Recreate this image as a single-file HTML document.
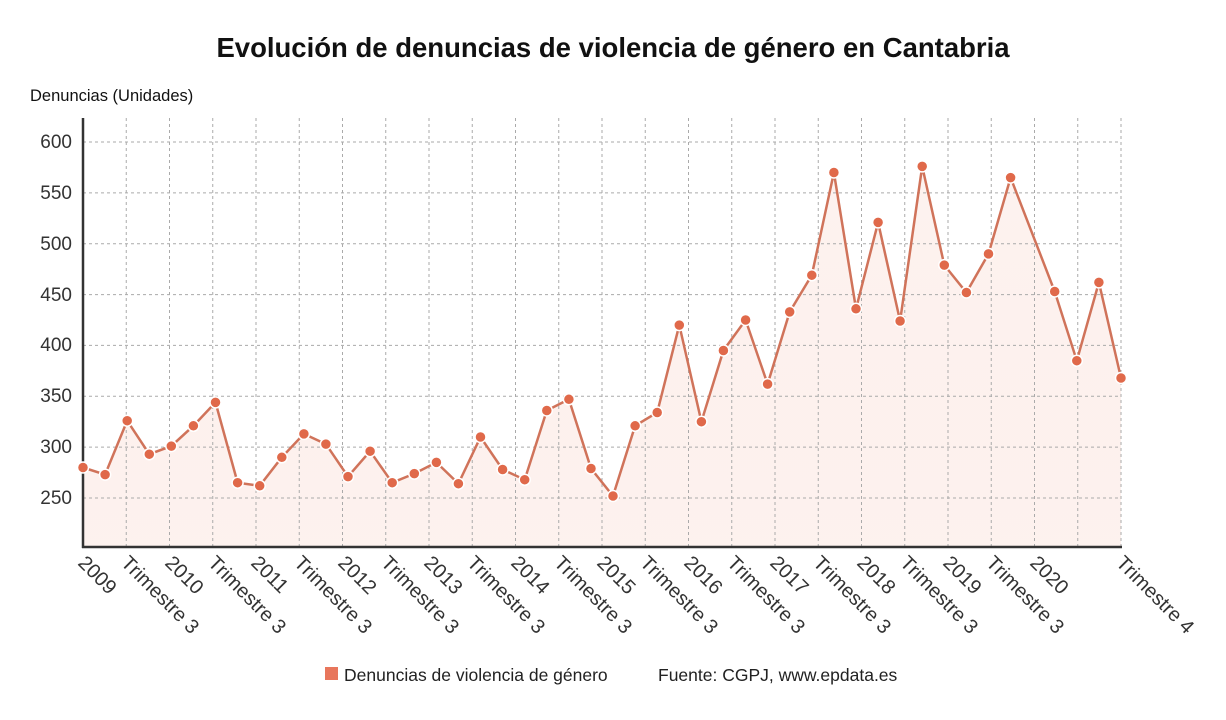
<!DOCTYPE html>
<html><head><meta charset="utf-8"><style>
body{margin:0;background:#fff;}
svg{display:block;font-family:"Liberation Sans",sans-serif;}
</style></head><body>
<svg width="1226" height="720" viewBox="0 0 1226 720">
<defs><linearGradient id="g" x1="0" y1="0" x2="0" y2="1"><stop offset="0" stop-color="#fbe6e0" stop-opacity="0.5"/><stop offset="1" stop-color="#fdf0ec" stop-opacity="0.9"/></linearGradient></defs>
<text x="613" y="57" text-anchor="middle" font-size="27.5" font-weight="bold" fill="#111">Evolución de denuncias de violencia de género en Cantabria</text>
<text x="30" y="101" font-size="16.5" fill="#111">Denuncias (Unidades)</text>
<polygon fill="url(#g)" points="83,547 83,467.5 105.1,474.6 127.2,420.7 149.3,454.2 171.3,446.1 193.4,425.8 215.5,402.4 237.6,482.7 259.7,485.8 281.8,457.3 303.9,433.9 325.9,444.1 348,476.6 370.1,451.2 392.2,482.7 414.3,473.6 436.4,462.4 458.4,483.7 480.5,437 502.6,469.5 524.7,479.7 546.8,410.5 568.9,399.3 591,468.5 613,496 635.1,425.8 657.2,412.5 679.3,325.1 701.4,421.7 723.4,350.5 745.6,320 767.6,384.1 789.7,311.9 811.8,275.2 833.9,172.5 856,308.8 878.1,222.4 900.1,321 922.2,166.4 944.3,265.1 966.4,292.5 988.5,253.9 1010.6,177.6 1054.7,291.5 1076.8,360.7 1098.9,282.4 1121,378 1121,547"/>
<g stroke="#aaa" stroke-width="1" stroke-dasharray="3,3" fill="none">
<path d="M83 142H1121M83 192.9H1121M83 243.7H1121M83 294.6H1121M83 345.4H1121M83 396.3H1121M83 447.1H1121M83 498H1121"/>
<path d="M126.25 118V547M169.5 118V547M212.75 118V547M256 118V547M299.25 118V547M342.5 118V547M385.75 118V547M429 118V547M472.25 118V547M515.5 118V547M558.75 118V547M602 118V547M645.25 118V547M688.5 118V547M731.75 118V547M775 118V547M818.25 118V547M861.5 118V547M904.75 118V547M948 118V547M991.25 118V547M1034.5 118V547M1077.75 118V547M1121 118V547"/>
</g>
<path d="M83 118V548M82 547H1122" stroke="#333" stroke-width="2.5" fill="none"/>
<g font-size="19" fill="#333" text-anchor="end">
<text x="72" y="148">600</text><text x="72" y="199">550</text><text x="72" y="250">500</text><text x="72" y="301">450</text><text x="72" y="351">400</text><text x="72" y="402">350</text><text x="72" y="453">300</text><text x="72" y="504">250</text>
</g>
<polyline fill="none" stroke="#d0735a" stroke-width="2.5" points="83,467.5 105.1,474.6 127.2,420.7 149.3,454.2 171.3,446.1 193.4,425.8 215.5,402.4 237.6,482.7 259.7,485.8 281.8,457.3 303.9,433.9 325.9,444.1 348,476.6 370.1,451.2 392.2,482.7 414.3,473.6 436.4,462.4 458.4,483.7 480.5,437 502.6,469.5 524.7,479.7 546.8,410.5 568.9,399.3 591,468.5 613,496 635.1,425.8 657.2,412.5 679.3,325.1 701.4,421.7 723.4,350.5 745.6,320 767.6,384.1 789.7,311.9 811.8,275.2 833.9,172.5 856,308.8 878.1,222.4 900.1,321 922.2,166.4 944.3,265.1 966.4,292.5 988.5,253.9 1010.6,177.6 1054.7,291.5 1076.8,360.7 1098.9,282.4 1121,378"/>
<g fill="#e0694a" stroke="#fff" stroke-width="1.5">
<circle cx="83" cy="467.5" r="5.5"/><circle cx="105.1" cy="474.6" r="5.5"/><circle cx="127.2" cy="420.7" r="5.5"/><circle cx="149.3" cy="454.2" r="5.5"/><circle cx="171.3" cy="446.1" r="5.5"/><circle cx="193.4" cy="425.8" r="5.5"/><circle cx="215.5" cy="402.4" r="5.5"/><circle cx="237.6" cy="482.7" r="5.5"/><circle cx="259.7" cy="485.8" r="5.5"/><circle cx="281.8" cy="457.3" r="5.5"/><circle cx="303.9" cy="433.9" r="5.5"/><circle cx="325.9" cy="444.1" r="5.5"/><circle cx="348" cy="476.6" r="5.5"/><circle cx="370.1" cy="451.2" r="5.5"/><circle cx="392.2" cy="482.7" r="5.5"/><circle cx="414.3" cy="473.6" r="5.5"/><circle cx="436.4" cy="462.4" r="5.5"/><circle cx="458.4" cy="483.7" r="5.5"/><circle cx="480.5" cy="437" r="5.5"/><circle cx="502.6" cy="469.5" r="5.5"/><circle cx="524.7" cy="479.7" r="5.5"/><circle cx="546.8" cy="410.5" r="5.5"/><circle cx="568.9" cy="399.3" r="5.5"/><circle cx="591" cy="468.5" r="5.5"/><circle cx="613" cy="496" r="5.5"/><circle cx="635.1" cy="425.8" r="5.5"/><circle cx="657.2" cy="412.5" r="5.5"/><circle cx="679.3" cy="325.1" r="5.5"/><circle cx="701.4" cy="421.7" r="5.5"/><circle cx="723.4" cy="350.5" r="5.5"/><circle cx="745.6" cy="320" r="5.5"/><circle cx="767.6" cy="384.1" r="5.5"/><circle cx="789.7" cy="311.9" r="5.5"/><circle cx="811.8" cy="275.2" r="5.5"/><circle cx="833.9" cy="172.5" r="5.5"/><circle cx="856" cy="308.8" r="5.5"/><circle cx="878.1" cy="222.4" r="5.5"/><circle cx="900.1" cy="321" r="5.5"/><circle cx="922.2" cy="166.4" r="5.5"/><circle cx="944.3" cy="265.1" r="5.5"/><circle cx="966.4" cy="292.5" r="5.5"/><circle cx="988.5" cy="253.9" r="5.5"/><circle cx="1010.6" cy="177.6" r="5.5"/><circle cx="1054.7" cy="291.5" r="5.5"/><circle cx="1076.8" cy="360.7" r="5.5"/><circle cx="1098.9" cy="282.4" r="5.5"/><circle cx="1121" cy="378" r="5.5"/>
</g>
<g font-size="20" fill="#333">
<text transform="translate(77,564) rotate(45)">2009</text>
<text transform="translate(120,564) rotate(45)">Trimestre 3</text>
<text transform="translate(164,564) rotate(45)">2010</text>
<text transform="translate(207,564) rotate(45)">Trimestre 3</text>
<text transform="translate(250,564) rotate(45)">2011</text>
<text transform="translate(293,564) rotate(45)">Trimestre 3</text>
<text transform="translate(337,564) rotate(45)">2012</text>
<text transform="translate(380,564) rotate(45)">Trimestre 3</text>
<text transform="translate(423,564) rotate(45)">2013</text>
<text transform="translate(466,564) rotate(45)">Trimestre 3</text>
<text transform="translate(510,564) rotate(45)">2014</text>
<text transform="translate(553,564) rotate(45)">Trimestre 3</text>
<text transform="translate(596,564) rotate(45)">2015</text>
<text transform="translate(639,564) rotate(45)">Trimestre 3</text>
<text transform="translate(683,564) rotate(45)">2016</text>
<text transform="translate(726,564) rotate(45)">Trimestre 3</text>
<text transform="translate(769,564) rotate(45)">2017</text>
<text transform="translate(812,564) rotate(45)">Trimestre 3</text>
<text transform="translate(856,564) rotate(45)">2018</text>
<text transform="translate(899,564) rotate(45)">Trimestre 3</text>
<text transform="translate(942,564) rotate(45)">2019</text>
<text transform="translate(985,564) rotate(45)">Trimestre 3</text>
<text transform="translate(1029,564) rotate(45)">2020</text>
<text transform="translate(1115,564) rotate(45)">Trimestre 4</text>
</g>
<rect x="325" y="667" width="13" height="13" fill="#e8765c"/>
<text x="344" y="681" font-size="17.5" fill="#222">Denuncias de violencia de género</text>
<text x="658" y="681" font-size="17.5" fill="#222">Fuente: CGPJ, www.epdata.es</text>
</svg>
</body></html>
